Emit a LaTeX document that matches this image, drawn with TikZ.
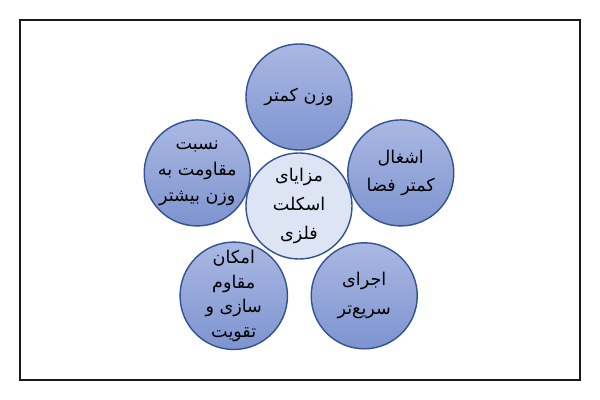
\documentclass[tikz,border=0pt]{standalone}
\usepackage{fontspec}
\newfontfamily\farsi[Script=Arabic]{DejaVu Sans}
\TeXXeTstate=1
\usepackage{tikz}
\usetikzlibrary{calc}

\definecolor{ringline}{RGB}{50,82,145}
\definecolor{hubfill}{RGB}{221,229,244}
\definecolor{petaltop}{RGB}{170,184,226}
\definecolor{petalbot}{RGB}{126,148,208}

\newcommand{\fa}[1]{\beginR #1\endR}

\begin{document}
\begin{tikzpicture}[x=0.025cm,y=0.025cm,
  hub/.style={circle, draw=ringline, line width=1pt, fill=hubfill,
              minimum size=2.65cm, inner sep=0pt, align=center,
              font=\farsi\fontsize{12.5}{17.5}\selectfont},
  loose/.style={font=\farsi\fontsize{12.5}{20.5}\selectfont},
  petal/.style={hub, top color=petaltop, bottom color=petalbot},
  frame/.style={draw=black!90, line width=1.4pt}]
\useasboundingbox (0,0) rectangle (600,400);
\draw[frame] (20,20) rectangle (580,380);

\node[hub,loose] (hub) at (299,194) {\fa{مزایای}\\ \fa{اسکلت}\\ \fa{فلزی}};
% five advantages round the hub
\node[petal] (light)  at ($(hub)+(90:109)$)   {\fa{وزن کمتر}};
\node[petal,loose] (space) at ($(hub)+(18:107)$) {\fa{اشغال}\\ \fa{کمتر فضا}};
\node[petal,loose] (fast)  at ($(hub)+(-54:111)$) {\fa{اجرای}\\ \fa{سریع‌تر}};
\node[petal] (retro)  at ($(hub)+(-126:111)$) {\fa{امکان}\\ \fa{مقاوم}\\ \fa{سازی و}\\ \fa{تقویت}};
\node[petal,font=\farsi\fontsize{12.5}{18.5}\selectfont] (ratio) at ($(hub)+(162:107)$)
  {\fa{نسبت}\\ \fa{مقاومت به}\\ \fa{وزن بیشتر}};
\end{tikzpicture}
\end{document}
